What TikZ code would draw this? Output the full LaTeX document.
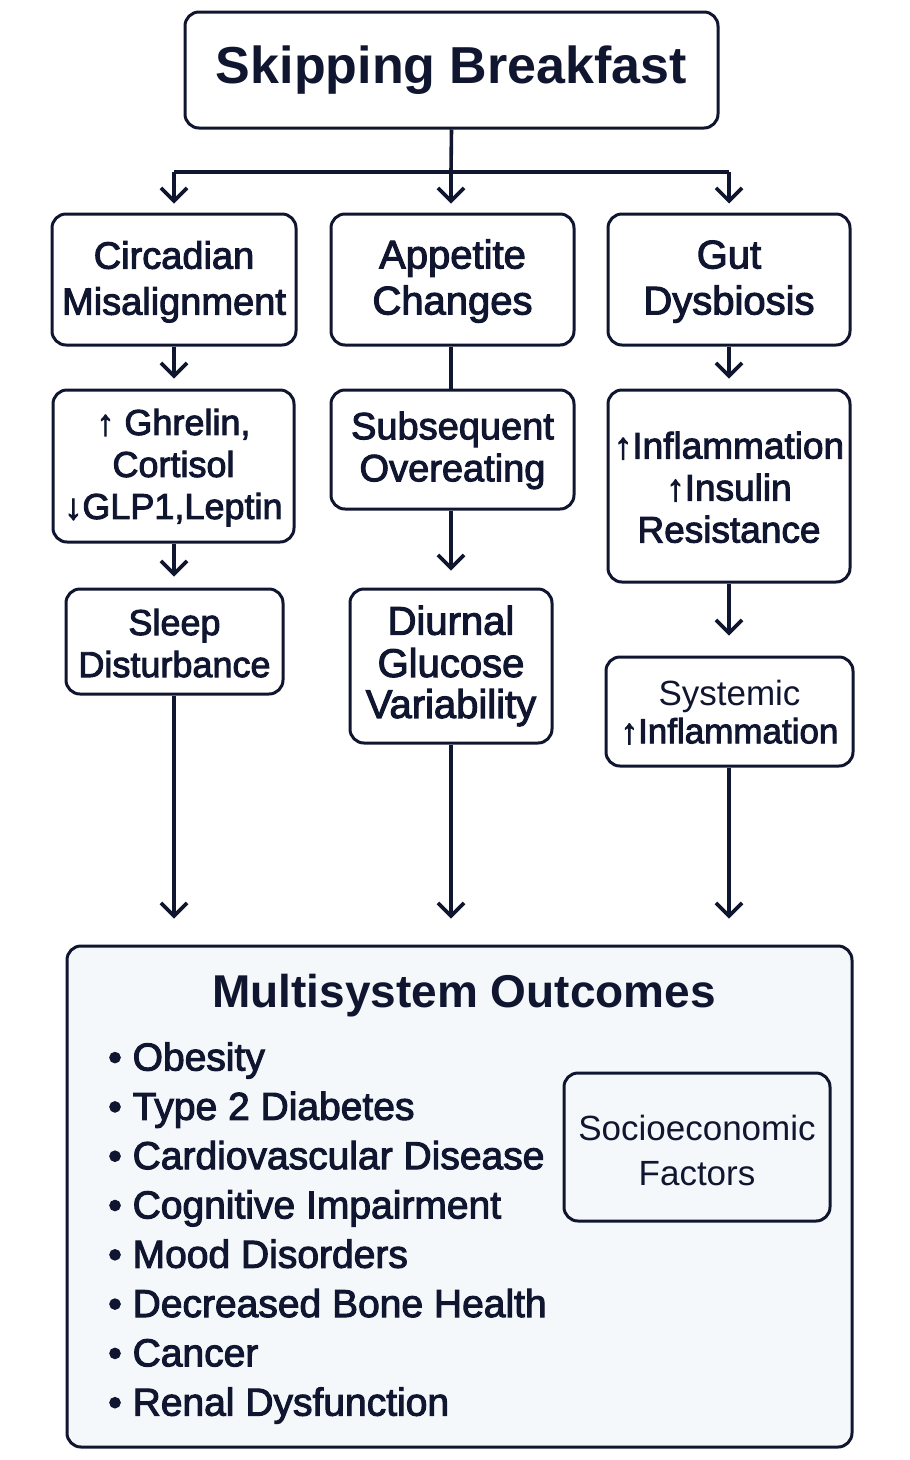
\documentclass[tikz,border=0pt]{standalone}
\usepackage{fontspec}
\setmainfont{Liberation Sans}
\newfontfamily\medfont{Liberation Sans}[FakeBold=2.6]
\usetikzlibrary{arrows.meta}
\definecolor{ink}{RGB}{16,22,48}
\definecolor{paleblue}{RGB}{244,248,251}

\newcommand{\titlefont}{\bfseries\fontsize{52}{60}\selectfont}
\newcommand{\headfont}{\bfseries\fontsize{46}{54}\selectfont}

\begin{document}
\begin{tikzpicture}[
    x=1pt, y=-1pt,
    every node/.style={text=ink, align=center},
    box/.style={draw=ink, line width=3pt, rounded corners=14pt, fill=white, inner sep=0pt},
    wire/.style={draw=ink, line width=3.6pt},
    arr/.style={wire, -{Straight Barb[length=13pt,width=26pt,line width=3.6pt]}},
  ]
  \useasboundingbox (0,0) rectangle (910,1460);

  % --- Root ---
  \node[box, minimum width=533, minimum height=116, font=\titlefont]
    (skip) at (451.5,70) {Skipping Breakfast};

  % --- First row: three pathways ---
  \node[box, minimum width=244, minimum height=131,
    font=\medfont\fontsize{38}{46}\selectfont]
    (circ) at (174,279.5) {\strut Circadian\\Misalignment};
  \node[box, minimum width=243, minimum height=131,
    font=\medfont\fontsize{40}{46}\selectfont]
    (appet) at (452.5,279.5) {\strut Appetite\\Changes};
  \node[box, minimum width=242, minimum height=131,
    font=\medfont\fontsize{40}{46}\selectfont]
    (gut) at (729,279.5) {\strut Gut\\Dysbiosis};

  % --- Second row ---
  \node[box, minimum width=241, minimum height=152,
    font=\medfont\fontsize{36}{42}\selectfont]
    (horm) at (173.5,466) {\strut ↑ Ghrelin,\\Cortisol\\↓GLP1,Leptin};
  \node[box, minimum width=243, minimum height=119,
    font=\medfont\fontsize{38}{42}\selectfont]
    (over) at (452.5,449.5) {\strut Subsequent\\Overeating};
  \node[box, minimum width=242, minimum height=192,
    font=\medfont\fontsize{37}{42}\selectfont]
    (infl) at (729,486) {\strut ↑Inflammation\\↑Insulin\\Resistance};

  % --- Third row ---
  \node[box, minimum width=217, minimum height=105,
    font=\medfont\fontsize{36}{42}\selectfont]
    (sleep) at (174.5,641.5) {\strut Sleep\\Disturbance};
  \node[box, minimum width=202, minimum height=154,
    font=\medfont\fontsize{40}{41}\selectfont]
    (gluc) at (451,666) {\strut Diurnal\\Glucose\\Variability};
  \node[box, minimum width=247, minimum height=109,
    font=\fontsize{35}{38}\selectfont]
    (sysinf) at (729.5,711.5) {\strut Systemic\\{\medfont ↑Inflammation}};

  % --- Outcomes panel ---
  \node[box, fill=paleblue, minimum width=785, minimum height=501]
    (out) at (459.5,1196.5) {};
  \node[font=\headfont] (outtitle) at (464,996) {Multisystem Outcomes};
  \node[anchor=west, align=left, inner sep=0pt,
    font=\medfont\fontsize{39}{49.3}\selectfont]
    (outlist) at (108,1233) {%
    • Obesity\\
    • Type 2 Diabetes\\
    • Cardiovascular Disease\\
    • Cognitive Impairment\\
    • Mood Disorders\\
    • Decreased Bone Health\\
    • Cancer\\
    • Renal Dysfunction};
  \node[box, fill=paleblue, minimum width=266, minimum height=148,
    font=\fontsize{35}{45}\selectfont]
    (socio) at (697,1147) {\strut Socioeconomic\\Factors};

  % --- Connectors: root to first row ---
  \coordinate (split) at (451,172);
  \draw[wire] (skip.south) -- (split);
  \draw[wire] (circ.north |- split) -- (gut.north |- split);
  \draw[arr, shorten >=9pt] (circ.north |- split) -- (circ.north);
  \draw[arr, shorten >=9pt] (split) -- (split |- appet.north);
  \draw[arr, shorten >=9pt] (gut.north |- split) -- (gut.north);

  % --- Connectors down each column ---
  \draw[arr, shorten >=10pt] (circ.south) -- (circ.south |- horm.north);
  \draw[wire] (split |- appet.south) -- (split |- over.north);
  \draw[arr, shorten >=10pt] (gut.south) -- (gut.south |- infl.north);

  \draw[arr, shorten >=11pt] (circ.south |- horm.south) -- (circ.south |- sleep.north);
  \draw[arr, shorten >=17pt] (split |- over.south) -- (split |- gluc.north);
  \draw[arr, shorten >=20pt] (gut.south |- infl.south) -- (gut.south |- sysinf.north);

  % --- Into the outcomes panel ---
  \draw[arr, shorten >=26pt] (circ.south |- sleep.south) -- (circ.south |- out.north);
  \draw[arr, shorten >=26pt] (split |- gluc.south) -- (split |- out.north);
  \draw[arr, shorten >=26pt] (gut.south |- sysinf.south) -- (gut.south |- out.north);

\end{tikzpicture}
\end{document}
